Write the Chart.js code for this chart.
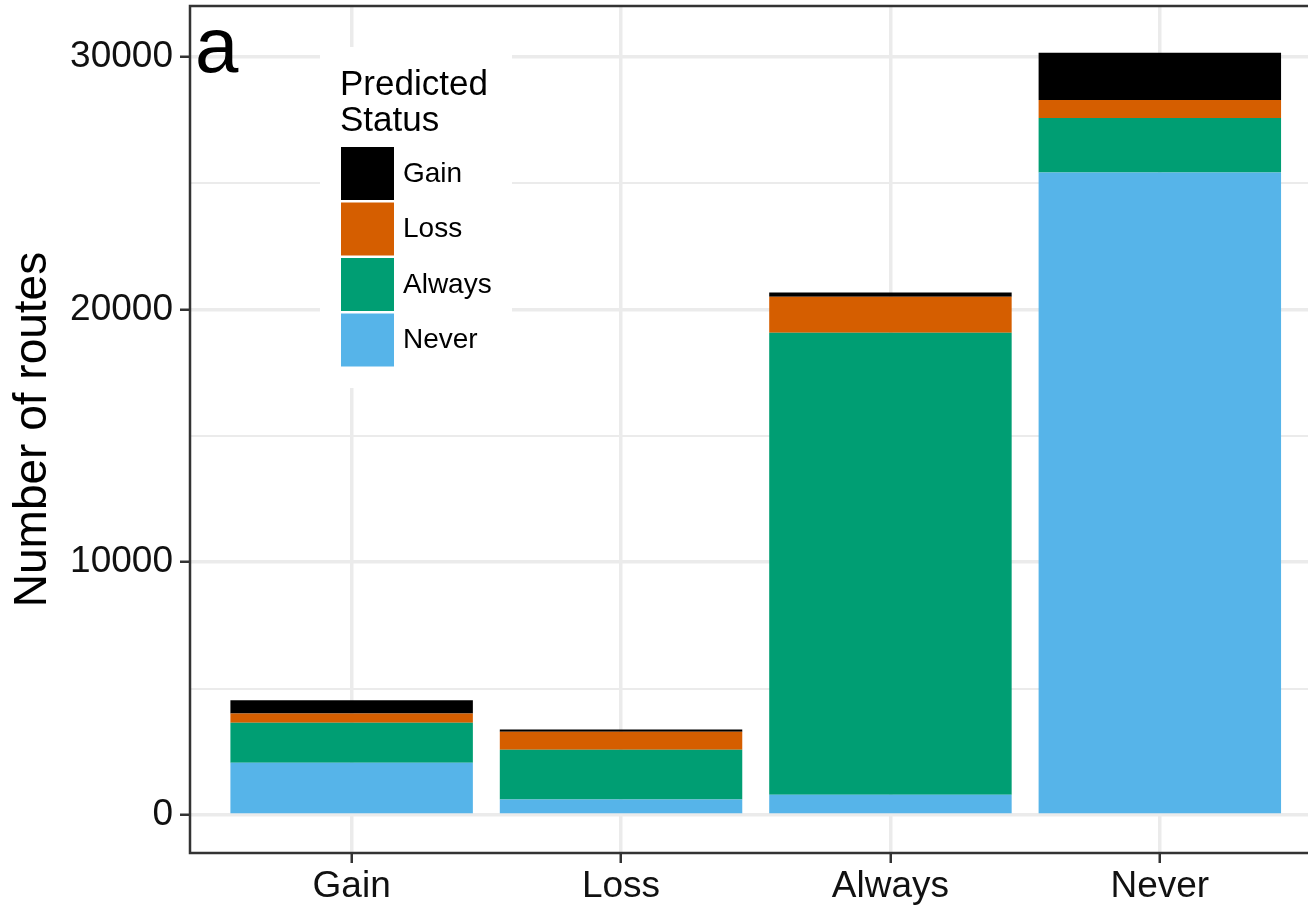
<!DOCTYPE html>
<html>
<head>
<meta charset="utf-8">
<script src="https://cdn.jsdelivr.net/npm/chart.js@4.4.1/dist/chart.umd.min.js"></script>
<style>
  body { margin: 0; background: #fff; }
  #wrap { width: 1308px; height: 905px; }
</style>
</head>
<body>
<div id="wrap"><canvas id="routesChart" width="1308" height="905"></canvas></div>
<script>
// observed category on the x axis
const categories = ['Gain', 'Loss', 'Always', 'Never'];

// predicted status, stacked bottom to top
const neverValues  = [2070, 620, 805, 25410];
const alwaysValues = [1580, 1965, 18275, 2160];
const lossValues   = [370, 710, 1425, 710];
const gainValues   = [525, 90, 160, 1875];

const yTickLabels = [0, 10000, 20000, 30000];

const FONT = '"Liberation Sans", Arial, Helvetica, sans-serif';

function toPoints(values) {
    return values.map((v, i) => ({ x: i, y: v }));
}

const datasets = [
    { label: 'Never',  data: toPoints(neverValues),  backgroundColor: '#56B4E9' },
    { label: 'Always', data: toPoints(alwaysValues), backgroundColor: '#009E73' },
    { label: 'Loss',   data: toPoints(lossValues),   backgroundColor: '#D55E00' },
    { label: 'Gain',   data: toPoints(gainValues),   backgroundColor: '#000000' }
];
datasets.forEach(ds => {
    ds.borderWidth = 0;
    ds.barPercentage = 1;
    ds.categoryPercentage = 0.9;
});

// minor grid lines halfway between labelled ticks
const yGridValues = [];
yTickLabels.forEach((v, i) => {
    yGridValues.push(v);
    if (i < yTickLabels.length - 1) yGridValues.push((v + yTickLabels[i + 1]) / 2);
});
const isMajor = v => yTickLabels.includes(v);

const panelPlugin = {
    id: 'panel',
    afterDatasetsDraw(chart) {
        const ctx = chart.ctx;
        const a = chart.chartArea;
        ctx.save();

        // legend inside the panel
        ctx.fillStyle = '#fff';
        ctx.fillRect(320, 47, 192, 341);
        ctx.fillStyle = '#000';
        ctx.font = '35px ' + FONT;
        ctx.textBaseline = 'alphabetic';
        ctx.fillText('Predicted', 340, 95);
        ctx.fillText('Status', 340, 131);
        const items = chart.data.datasets.slice().reverse();
        items.forEach((ds, i) => {
            const y = 146 + i * 55.5;
            ctx.fillStyle = ds.backgroundColor;
            ctx.fillRect(340, y, 55, 55);
            ctx.strokeStyle = '#fff';
            ctx.lineWidth = 2;
            ctx.strokeRect(340, y, 55, 55);
            ctx.fillStyle = '#000';
            ctx.font = '28px ' + FONT;
            ctx.textBaseline = 'middle';
            ctx.fillText(ds.label, 403, y + 28);
        });

        // panel border (right edge falls outside the picture)
        ctx.strokeStyle = '#333';
        ctx.lineWidth = 2.5;
        ctx.beginPath();
        ctx.moveTo(a.right + 5, a.top);
        ctx.lineTo(a.left, a.top);
        ctx.lineTo(a.left, a.bottom);
        ctx.lineTo(a.right + 5, a.bottom);
        ctx.stroke();

        // panel tag
        ctx.fillStyle = '#000';
        ctx.font = '78px ' + FONT;
        ctx.textBaseline = 'alphabetic';
        ctx.fillText('a', 195, 72);
        ctx.restore();
    }
};

const noPad = axis => {
    axis.paddingTop = 0;
    axis.paddingBottom = 0;
    axis.paddingLeft = 0;
    axis.paddingRight = 0;
};

const ctx = document.getElementById('routesChart').getContext('2d');
new Chart(ctx, {
    type: 'bar',
    data: { datasets: datasets },
    plugins: [panelPlugin],
    options: {
        responsive: false,
        animation: false,
        layout: { padding: { top: 6, left: 0, right: 0, bottom: 0 } },
        plugins: {
            legend: { display: false },
            tooltip: { enabled: false }
        },
        scales: {
            x: {
                type: 'linear',
                stacked: true,
                offset: false,
                min: -0.6,
                max: 3.55,
                afterBuildTicks: axis => {
                    axis.ticks = categories.map((c, i) => ({ value: i }));
                },
                afterFit: axis => { axis.height = 52; noPad(axis); },
                border: { display: false },
                grid: {
                    offset: false,
                    color: '#EBEBEB',
                    lineWidth: 3.5,
                    tickLength: 10,
                    tickColor: '#333',
                    tickWidth: 2.5
                },
                ticks: {
                    padding: 2,
                    color: '#111',
                    font: { family: FONT, size: 37 },
                    callback: value => categories[value] ?? ''
                }
            },
            y: {
                stacked: true,
                min: -1500,
                max: 32000,
                afterBuildTicks: axis => {
                    axis.ticks = yGridValues.map(v => ({ value: v }));
                },
                afterFit: axis => { axis.width = 190; noPad(axis); },
                border: { display: false },
                grid: {
                    color: '#EBEBEB',
                    lineWidth: c => isMajor(c.tick.value) ? 3.5 : 2,
                    tickLength: 10,
                    tickColor: c => isMajor(c.tick.value) ? '#333' : 'rgba(0,0,0,0)',
                    tickWidth: 2.5
                },
                ticks: {
                    padding: 7,
                    color: '#111',
                    font: { family: FONT, size: 37 },
                    callback: value => isMajor(value) ? String(value) : ''
                },
                title: {
                    display: true,
                    text: 'Number of routes',
                    color: '#000',
                    font: { family: FONT, size: 46, lineHeight: 1 },
                    padding: { top: 10, bottom: 0 }
                }
            }
        }
    }
});
</script>
</body>
</html>
